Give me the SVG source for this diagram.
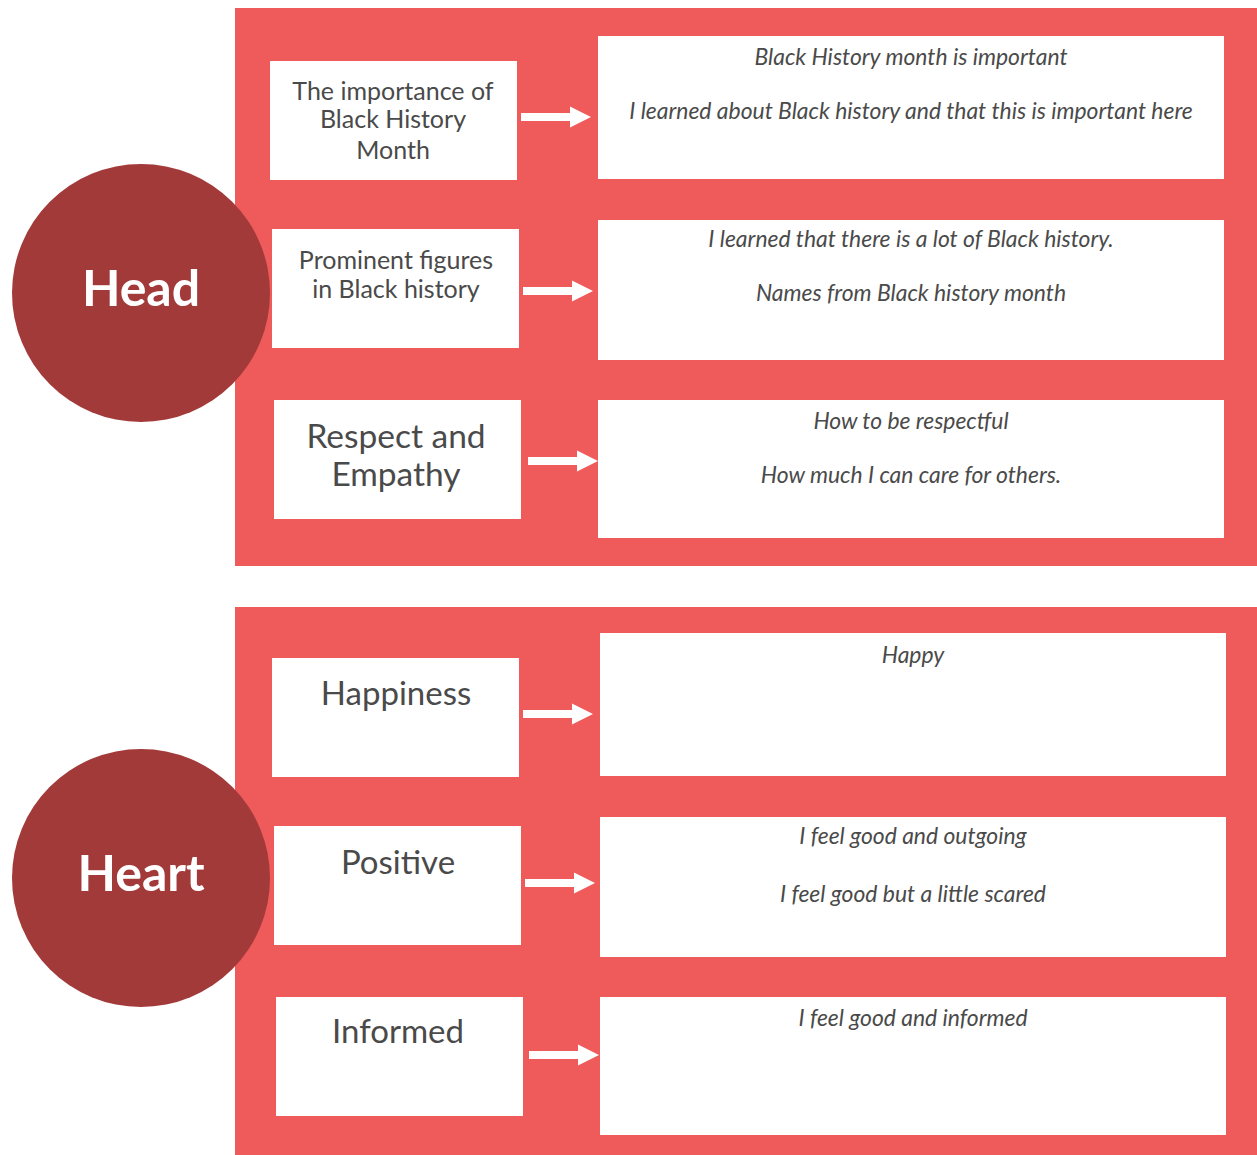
<svg xmlns="http://www.w3.org/2000/svg" width="1257" height="1155" viewBox="0 0 1257 1155">
  <defs>
    <style>
      .panel { fill: #ef5a5a; }
      .hub { fill: #a33a3a; }
      .box { fill: #ffffff; }
      .hubtxt { font-family: Lato, "Open Sans", sans-serif; font-weight: bold; font-size: 50px; fill: #ffffff; text-anchor: middle; }
      .topic { font-family: Lato, "Open Sans", sans-serif; fill: #4a4a4a; text-anchor: middle; }
      .note { font-family: Lato, "Open Sans", sans-serif; font-style: italic; font-size: 22.9px; fill: #4a4a4a; text-anchor: middle; }
      .arrow { fill: #ffffff; }
    </style>
    <path id="arr" d="M0,-4 H49 V-10.5 L70,0 L49,10.5 V4 H0 Z"/>
  </defs>

  <rect width="1257" height="1155" fill="#ffffff"/>

  <!-- background panels -->
  <rect class="panel" x="235" y="8" width="1022" height="558"/>
  <rect class="panel" x="235" y="607" width="1022" height="548"/>

  <!-- Head section -->
  <g id="head">
    <circle class="hub" cx="141" cy="293" r="129"/>
    <text class="hubtxt" x="141" y="306">Head</text>
  </g>
  <g id="topic-bhm">
    <rect class="box" x="270" y="61" width="247" height="119"/>
    <text class="topic" font-size="25" x="393" y="100">The importance of</text>
    <text class="topic" font-size="25" x="393" y="128">Black History</text>
    <text class="topic" font-size="25" x="393" y="159">Month</text>
  </g>
  <g id="topic-figures">
    <rect class="box" x="272" y="229" width="247" height="119"/>
    <text class="topic" font-size="25" x="396" y="269">Prominent figures</text>
    <text class="topic" font-size="25" x="396" y="298">in Black history</text>
  </g>
  <g id="topic-respect">
    <rect class="box" x="274" y="400" width="247" height="119"/>
    <text class="topic" font-size="33.5" x="396" y="448">Respect and</text>
    <text class="topic" font-size="33.5" x="396" y="486">Empathy</text>
  </g>
  <g id="note-bhm">
    <rect class="box" x="598" y="36" width="626" height="143"/>
    <text class="note" x="911" y="65">Black History month is important</text>
    <text class="note" x="911" y="119">I learned about Black history and that this is important here</text>
  </g>
  <g id="note-figures">
    <rect class="box" x="598" y="220" width="626" height="140"/>
    <text class="note" x="911" y="247">I learned that there is a lot of Black history.</text>
    <text class="note" x="911" y="301">Names from Black history month</text>
  </g>
  <g id="note-respect">
    <rect class="box" x="598" y="400" width="626" height="138"/>
    <text class="note" x="911" y="429">How to be respectful</text>
    <text class="note" x="911" y="483">How much I can care for others.</text>
  </g>

  <!-- Heart section -->
  <g id="heart">
    <circle class="hub" cx="141" cy="878" r="129"/>
    <text class="hubtxt" x="141" y="891">Heart</text>
  </g>
  <g id="topic-happiness">
    <rect class="box" x="272" y="658" width="247" height="119"/>
    <text class="topic" font-size="33" x="396" y="705">Happiness</text>
  </g>
  <g id="topic-positive">
    <rect class="box" x="274" y="826" width="247" height="119"/>
    <text class="topic" font-size="33" x="398" y="874">Positive</text>
  </g>
  <g id="topic-informed">
    <rect class="box" x="276" y="997" width="247" height="119"/>
    <text class="topic" font-size="33" x="398" y="1043">Informed</text>
  </g>
  <g id="note-happiness">
    <rect class="box" x="600" y="633" width="626" height="143"/>
    <text class="note" x="913" y="663">Happy</text>
  </g>
  <g id="note-positive">
    <rect class="box" x="600" y="817" width="626" height="140"/>
    <text class="note" x="913" y="844">I feel good and outgoing</text>
    <text class="note" x="913" y="902">I feel good but a little scared</text>
  </g>
  <g id="note-informed">
    <rect class="box" x="600" y="997" width="626" height="138"/>
    <text class="note" x="913" y="1026">I feel good and informed</text>
  </g>

  <!-- connectors -->
  <g id="connectors" class="arrow">
    <use href="#arr" x="521" y="117"/>
    <use href="#arr" x="523" y="291"/>
    <use href="#arr" x="528" y="461"/>
    <use href="#arr" x="523" y="714"/>
    <use href="#arr" x="525" y="883"/>
    <use href="#arr" x="529" y="1055"/>
  </g>
</svg>
